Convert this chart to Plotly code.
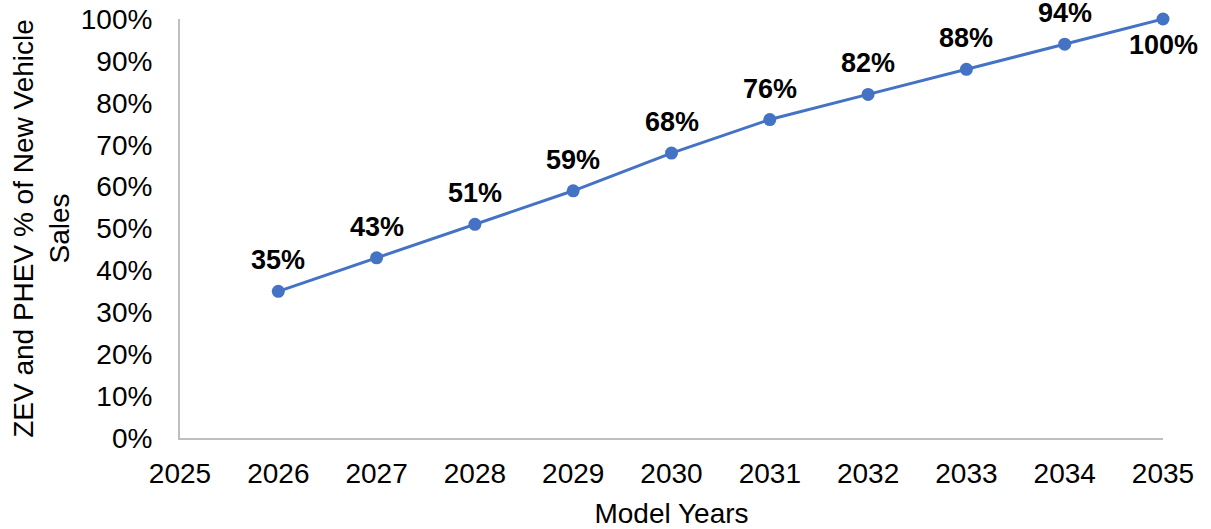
import plotly.graph_objects as go

years = [2026, 2027, 2028, 2029, 2030, 2031, 2032, 2033, 2034, 2035]
share = [0.35, 0.43, 0.51, 0.59, 0.68, 0.76, 0.82, 0.88, 0.94, 1.00]
labels = ["35%", "43%", "51%", "59%", "68%", "76%", "82%", "88%", "94%", "100%"]
x_ticks = list(range(2025, 2036))
y_ticks = [i / 10 for i in range(11)]
y_tick_text = [f"{i*10}%" for i in range(11)]

FONT = "Liberation Sans, Arial, sans-serif"

fig = go.Figure()
fig.add_trace(go.Scatter(
    x=years, y=share, mode="lines+markers",
    line=dict(color="#4472C4", width=3),
    marker=dict(color="#4472C4", size=13),
    cliponaxis=False, showlegend=False, hoverinfo="x+y",
))

for i, (xv, yv, lab) in enumerate(zip(years, share, labels)):
    last = i == len(years) - 1
    fig.add_annotation(
        x=xv, y=yv, text=f"<b>{lab}</b>", showarrow=False,
        yshift=-26 if last else 31,
        font=dict(family=FONT, size=27, color="#000000"),
    )

fig.update_layout(
    width=1211, height=529,
    margin=dict(l=180, r=48, t=19, b=91),
    paper_bgcolor="white", plot_bgcolor="white",
    font=dict(family=FONT, size=28, color="#000000"),
    xaxis=dict(
        range=[2025, 2035], tickvals=x_ticks, ticktext=[str(v) for v in x_ticks],
        showgrid=False, zeroline=False, showline=True, linecolor="#BFBFBF", linewidth=2,
        ticks="", ticklabelstandoff=9, automargin=False,
        title=dict(text="Model Years", standoff=18, font=dict(size=28)),
    ),
    yaxis=dict(
        range=[0, 1], tickvals=y_ticks, ticktext=y_tick_text,
        showgrid=False, zeroline=False, showline=True, linecolor="#BFBFBF", linewidth=2,
        ticks="", ticklabelstandoff=20, automargin=False,
        title=dict(text="ZEV and PHEV % of New Vehicle<br>Sales", standoff=3, font=dict(size=28)),
    ),
)

fig.write_html("out.html")
